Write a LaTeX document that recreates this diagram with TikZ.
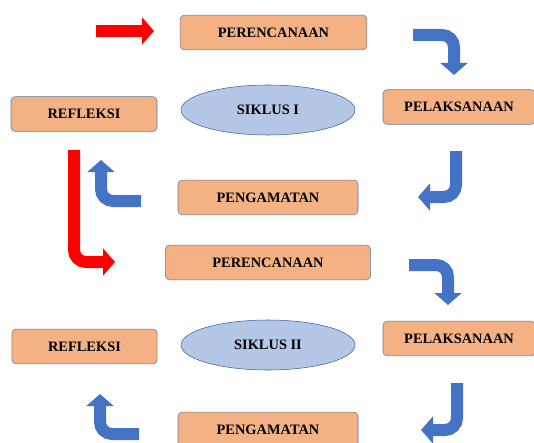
\documentclass[tikz,border=0pt]{standalone}
\usepackage{fontspec}
\setmainfont{Liberation Serif}
\usepackage{xcolor}
\usepackage{tikz}
\usetikzlibrary{arrows.meta}
\usetikzlibrary{shapes.geometric}
\definecolor{boxfill}{HTML}{F4B183}
\definecolor{boxline}{HTML}{5B7BA5}
\definecolor{ellfill}{HTML}{B4C7E7}
\definecolor{ellline}{HTML}{3A5F9E}
\definecolor{bendblue}{HTML}{4472C4}
\tikzstyle{block} = [draw=boxline, fill=boxfill,
	rounded corners=3pt,
	inner sep=0pt,
	minimum height=26pt,
	font=\fontsize{10.8}{12}\selectfont\bfseries]
\tikzstyle{siklus} = [ellipse, draw=ellline, fill=ellfill,
	inner sep=0pt,
	minimum width=130.5pt,
	minimum height=37.5pt,
	font=\fontsize{10.8}{12}\selectfont\bfseries]
\tikzstyle{bendarrow} = [-{Triangle[length=9pt, width=20pt]}, line width=9pt, draw=bendblue, rounded corners=9pt]
\tikzstyle{redarrow} = [bendarrow, draw=red]

\begin{document}
\begin{tikzpicture}[x=0.75pt, y=-0.75pt]
			\useasboundingbox (0,0) rectangle (534,442);
			
			%siklus I
			\node (plan1) [block, minimum width=140pt] at (273.5,32.5) {PERENCANAAN};
			\node (exec1) [block, minimum width=114pt] at (459,107) {PELAKSANAAN};
			\node (obs1) [block, minimum width=135pt] at (268,197.5) {PENGAMATAN};
			\node (refl1) [block, minimum width=109.5pt] at (84,114) {REFLEKSI};
			\node (cyc1) [siklus] at (268,110) {SIKLUS I};
			
			\coordinate (in1) at (96,31);
			\coordinate (in2) at (154,31);
			\draw [redarrow] (in1) -- (in2);
			
			\coordinate (a1) at (413,35);
			\coordinate (a2) at (454,75);
			\draw [bendarrow] (a1) -| (a2);
			
			\coordinate (b1) at (456,151);
			\coordinate (b2) at (418,197);
			\draw [bendarrow] (b1) |- (b2);
			
			\coordinate (c1) at (141,201);
			\coordinate (c2) at (101,160);
			\draw [bendarrow] (c1) -| (c2);
			
			%menuju siklus II
			\coordinate (r1) at (74,150);
			\coordinate (r2) at (115,262);
			\draw [redarrow] (r1) |- (r2);
			
			%siklus II
			\node (plan2) [block, minimum width=153.8pt] at (268,262.5) {PERENCANAAN};
			\node (exec2) [block, minimum width=114pt] at (459,338.5) {PELAKSANAAN};
			\node (obs2) [block, minimum width=135pt] at (268,429.5) {PENGAMATAN};
			\node (refl2) [block, minimum width=109pt] at (84.5,346.5) {REFLEKSI};
			\node (cyc2) [siklus] at (268,345) {SIKLUS II};
			
			\coordinate (d1) at (409,265);
			\coordinate (d2) at (448,305);
			\draw [bendarrow] (d1) -| (d2);
			
			\coordinate (e1) at (457,383);
			\coordinate (e2) at (421,430);
			\draw [bendarrow] (e1) |- (e2);
			
			\coordinate (f1) at (139,434);
			\coordinate (f2) at (100,394);
			\draw [bendarrow] (f1) -| (f2);
		\end{tikzpicture}
\end{document}
